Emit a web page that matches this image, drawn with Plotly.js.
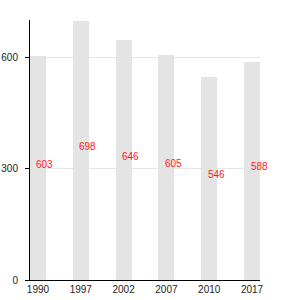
<!DOCTYPE html>
<html>
<head>
<meta charset="utf-8">
<script src="https://cdn.plot.ly/plotly-3.0.1.min.js"></script>
<style>html,body{margin:0;padding:0;background:#fff;}#chart{width:300px;height:300px;}</style>
</head>
<body>
<div id="chart"></div>
<script>
var years = ["1990", "1997", "2002", "2007", "2010", "2017"];
var values = [603, 698, 646, 605, 546, 588];
var yTicks = [0, 300, 600];

var annotations = years.map(function (y, i) {
  return {
    xref: "x", yref: "y",
    x: i, y: values[i] / 2, text: String(values[i]),
    showarrow: false, xanchor: "center", yanchor: "middle",
    xshift: 7, yshift: 4,
    font: {family: "Arial", size: 10, color: "#ff1a1a"}
  };
});

var data = [{
  type: "bar",
  x: years,
  y: values,
  width: 0.37,
  marker: {color: "#e4e4e4", line: {width: 0}},
  hoverinfo: "none"
}];

var layout = {
  width: 300, height: 300,
  margin: {l: 30, r: 40, t: 20, b: 20},
  paper_bgcolor: "#ffffff", plot_bgcolor: "#ffffff",
  showlegend: false,
  font: {family: "Arial", size: 10, color: "#222"},
  xaxis: {
    type: "category",
    range: [-0.186, 5.186],
    showline: true, linecolor: "#000", linewidth: 1,
    showgrid: false, ticks: "", ticklabelstandoff: 0,
    tickfont: {family: "Arial", size: 10, color: "#222"}
  },
  yaxis: {
    range: [0, 700],
    tickvals: yTicks,
    ticktext: yTicks.map(String),
    showline: true, linecolor: "#000", linewidth: 1,
    showgrid: true, gridcolor: "#e6e6e6", gridwidth: 1,
    zeroline: false,
    ticks: "outside", ticklen: 4, tickcolor: "#000",
    ticklabelstandoff: 5,
    tickfont: {family: "Arial", size: 10, color: "#222"}
  },
  annotations: annotations,
  bargap: 0
};

Plotly.newPlot("chart", data, layout, {displayModeBar: false});
</script>
</body>
</html>
